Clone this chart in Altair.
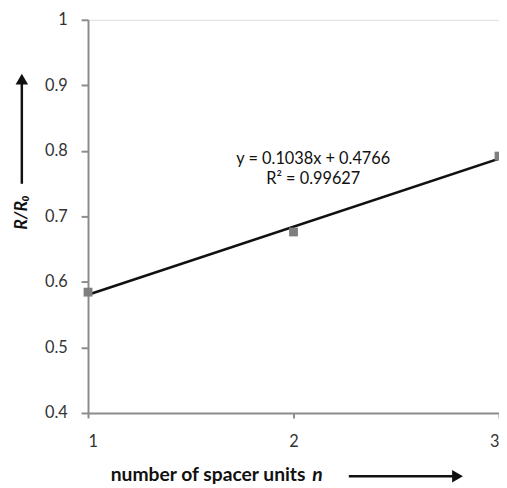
import altair as alt
import pandas as pd

# data
n_units = [1, 2, 3]
ratio = [0.5844, 0.6762, 0.7920]
x_ticks = [1, 2, 3]
y_ticks = [0.4, 0.5, 0.6, 0.7, 0.8, 0.9, 1.0]
eq_line1 = "y = 0.1038x + 0.4766"
eq_line2 = "R² = 0.99627"
x_title = "number of spacer units"
x_title_var = "n"
y_title = "R/R₀"

df = pd.DataFrame({"n": n_units, "ratio": ratio})
dummy = pd.DataFrame({"a": [0]})

FONT = "Lato"
AX = "#8c8c8c"

xscale = alt.Scale(domain=[1, 3], nice=False, zero=False)
yscale = alt.Scale(domain=[0.4, 1.0], nice=False, zero=False)

xaxis = alt.Axis(values=x_ticks, title=None, grid=False, domainColor=AX, domainWidth=2,
                 tickColor=AX, tickWidth=2, tickSize=5, labelFont=FONT, labelFontSize=16.5,
                 labelColor="#333333", labelPadding=16, labelOverlap=False,
                 labelExpr="format(datum.value, 'd')")
yaxis = alt.Axis(values=y_ticks, title=None, grid=False, domainColor=AX, domainWidth=2,
                 tickColor=AX, tickWidth=2, tickSize=7, labelFont=FONT, labelFontSize=16.5,
                 labelColor="#333333", labelPadding=14, labelOverlap=False,
                 labelExpr="datum.value == 1 ? '1' : format(datum.value, '.1f')")

base = alt.Chart(df)

points = base.mark_square(size=80, color="#7f7f7f", opacity=1).encode(
    x=alt.X("n:Q", scale=xscale, axis=xaxis),
    y=alt.Y("ratio:Q", scale=yscale, axis=yaxis),
)

trend = base.transform_regression("n", "ratio", method="linear").mark_line(
    color="#111111", strokeWidth=2.5).encode(
    x=alt.X("n:Q", scale=xscale),
    y=alt.Y("ratio:Q", scale=yscale),
)

d = alt.Chart(dummy)
eq1 = d.mark_text(font=FONT, fontSize=16.5, color="#111111", align="center", baseline="middle").encode(
    x=alt.value(228), y=alt.value(141), text=alt.value(eq_line1))
eq2 = d.mark_text(font=FONT, fontSize=16.5, color="#111111", align="center", baseline="middle").encode(
    x=alt.value(228), y=alt.value(161), text=alt.value(eq_line2))

xt1 = d.mark_text(font=FONT, fontSize=19.5, fontWeight="bold", color="#111111", align="left", baseline="middle").encode(
    x=alt.value(23), y=alt.value(461), text=alt.value(x_title))
xt2 = d.mark_text(font=FONT, fontSize=19.5, fontWeight="bold", fontStyle="italic", color="#111111",
                  align="left", baseline="middle").encode(
    x=alt.value(227), y=alt.value(461), text=alt.value(x_title_var))
xarrow = d.mark_rule(color="#111111", strokeWidth=2.5).encode(
    x=alt.value(264), x2=alt.value(372), y=alt.value(462))
xhead = d.mark_point(shape="triangle-right", filled=True, color="#111111", size=160, opacity=1).encode(
    x=alt.value(374), y=alt.value(462))

yt = d.mark_text(font=FONT, fontSize=18, fontWeight="bold", fontStyle="italic", color="#111111",
                 align="center", baseline="middle", angle=270).encode(
    x=alt.value(-67), y=alt.value(195), text=alt.value(y_title))
yarrow = d.mark_rule(color="#111111", strokeWidth=2.5).encode(
    x=alt.value(-67), y=alt.value(166), y2=alt.value(62))
yhead = d.mark_point(shape="triangle-up", filled=True, color="#111111", size=160, opacity=1).encode(
    x=alt.value(-67), y=alt.value(60))

chart = alt.layer(trend, points, eq1, eq2, xt1, xt2, xarrow, xhead, yt, yarrow, yhead).properties(
    width=416, height=398,
    autosize=alt.AutoSizeParams(type="none"),
    padding={"left": 81, "top": 9, "right": 0, "bottom": 73},
).configure_view(stroke=None).configure(background="white")

chart.save("out.html", embed_options={"renderer": "svg", "actions": False})
